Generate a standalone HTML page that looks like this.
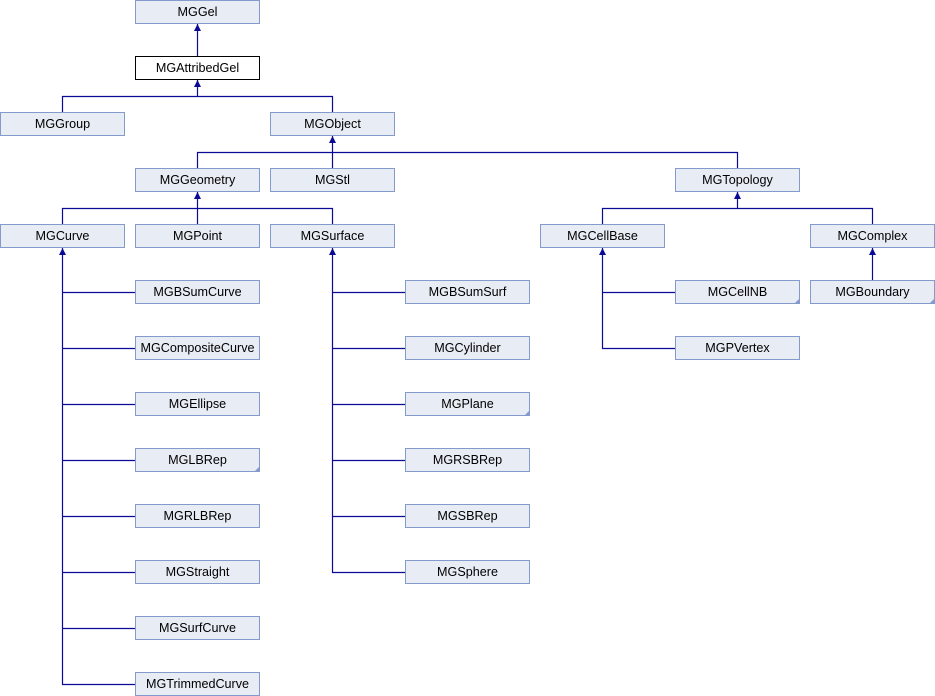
<!DOCTYPE html>
<html><head><meta charset="utf-8"><style>
html,body{margin:0;padding:0;background:#fff;width:935px;height:696px;overflow:hidden}
svg text{font-family:"Liberation Sans",sans-serif;font-size:12.6px;text-anchor:middle;fill:#000}
.b{fill:#e8ecf5;stroke:#8499cc;stroke-width:1}
.w{fill:#fff;stroke:#000;stroke-width:1}
.l{stroke:#0a0a96;stroke-width:1.2;fill:none}
.a{fill:#0a0a96}
.f{fill:#8499cc}
</style></head><body>
<svg width="935" height="696" xmlns="http://www.w3.org/2000/svg">
<g class="l">
<path d="M197.5 24V56"/>
<path d="M62.5 112V96.5H332.5V112M197.5 80V96"/>
<path d="M197.5 168V152.5H737.5V168M332.5 136V168"/>
<path d="M62.5 224V208.5H332.5V224M197.5 192V224"/>
<path d="M602.5 224V208.5H872.5V224M737.5 192V208"/>
<path d="M62.5 248V684.5"/>
<path d="M62 292.5H135M62 348.5H135M62 404.5H135M62 460.5H135M62 516.5H135M62 572.5H135M62 628.5H135M62 684.5H135"/>
<path d="M332.5 248V572.5"/>
<path d="M332 292.5H405M332 348.5H405M332 404.5H405M332 460.5H405M332 516.5H405M332 572.5H405"/>
<path d="M602.5 248V348.5M602 292.5H675M602 348.5H675"/>
<path d="M872.5 248V280"/>
</g>
<g class="a">
<polygon points="197.5,24 194,31 201,31"/>
<polygon points="197.5,80 194,87 201,87"/>
<polygon points="332.5,136 329,143 336,143"/>
<polygon points="197.5,192 194,199 201,199"/>
<polygon points="737.5,192 734,199 741,199"/>
<polygon points="62.5,248 59,255 66,255"/>
<polygon points="332.5,248 329,255 336,255"/>
<polygon points="602.5,248 599,255 606,255"/>
<polygon points="872.5,248 869,255 876,255"/>
</g>
<g>
<rect class="b" x="135.5" y="0.5" width="124" height="23"/><text x="197.5" y="16">MGGel</text>
<rect class="w" x="135.5" y="56.5" width="124" height="23"/><text x="197.5" y="72">MGAttribedGel</text>
<rect class="b" x="0.5" y="112.5" width="124" height="23"/><text x="62.5" y="128">MGGroup</text>
<rect class="b" x="270.5" y="112.5" width="124" height="23"/><text x="332.5" y="128">MGObject</text>
<rect class="b" x="135.5" y="168.5" width="124" height="23"/><text x="197.5" y="184">MGGeometry</text>
<rect class="b" x="270.5" y="168.5" width="124" height="23"/><text x="332.5" y="184">MGStl</text>
<rect class="b" x="675.5" y="168.5" width="124" height="23"/><text x="737.5" y="184">MGTopology</text>
<rect class="b" x="0.5" y="224.5" width="124" height="23"/><text x="62.5" y="240">MGCurve</text>
<rect class="b" x="135.5" y="224.5" width="124" height="23"/><text x="197.5" y="240">MGPoint</text>
<rect class="b" x="270.5" y="224.5" width="124" height="23"/><text x="332.5" y="240">MGSurface</text>
<rect class="b" x="540.5" y="224.5" width="124" height="23"/><text x="602.5" y="240">MGCellBase</text>
<rect class="b" x="810.5" y="224.5" width="124" height="23"/><text x="872.5" y="240">MGComplex</text>

<rect class="b" x="135.5" y="280.5" width="124" height="23"/><text x="197.5" y="296">MGBSumCurve</text>
<rect class="b" x="135.5" y="336.5" width="124" height="23"/><text x="197.5" y="352">MGCompositeCurve</text>
<rect class="b" x="135.5" y="392.5" width="124" height="23"/><text x="197.5" y="408">MGEllipse</text>
<rect class="b" x="135.5" y="448.5" width="124" height="23"/><text x="197.5" y="464">MGLBRep</text>
<rect class="b" x="135.5" y="504.5" width="124" height="23"/><text x="197.5" y="520">MGRLBRep</text>
<rect class="b" x="135.5" y="560.5" width="124" height="23"/><text x="197.5" y="576">MGStraight</text>
<rect class="b" x="135.5" y="616.5" width="124" height="23"/><text x="197.5" y="632">MGSurfCurve</text>
<rect class="b" x="135.5" y="672.5" width="124" height="23"/><text x="197.5" y="688">MGTrimmedCurve</text>

<rect class="b" x="405.5" y="280.5" width="124" height="23"/><text x="467.5" y="296">MGBSumSurf</text>
<rect class="b" x="405.5" y="336.5" width="124" height="23"/><text x="467.5" y="352">MGCylinder</text>
<rect class="b" x="405.5" y="392.5" width="124" height="23"/><text x="467.5" y="408">MGPlane</text>
<rect class="b" x="405.5" y="448.5" width="124" height="23"/><text x="467.5" y="464">MGRSBRep</text>
<rect class="b" x="405.5" y="504.5" width="124" height="23"/><text x="467.5" y="520">MGSBRep</text>
<rect class="b" x="405.5" y="560.5" width="124" height="23"/><text x="467.5" y="576">MGSphere</text>

<rect class="b" x="675.5" y="280.5" width="124" height="23"/><text x="737.5" y="296">MGCellNB</text>
<rect class="b" x="675.5" y="336.5" width="124" height="23"/><text x="737.5" y="352">MGPVertex</text>
<rect class="b" x="810.5" y="280.5" width="124" height="23"/><text x="872.5" y="296">MGBoundary</text>
</g>
<g class="f">
<polygon points="260,466 260,472 254,472"/>
<polygon points="530,410 530,416 524,416"/>
<polygon points="800,298 800,304 794,304"/>
<polygon points="935,298 935,304 929,304"/>
</g>
</svg>
</body></html>
